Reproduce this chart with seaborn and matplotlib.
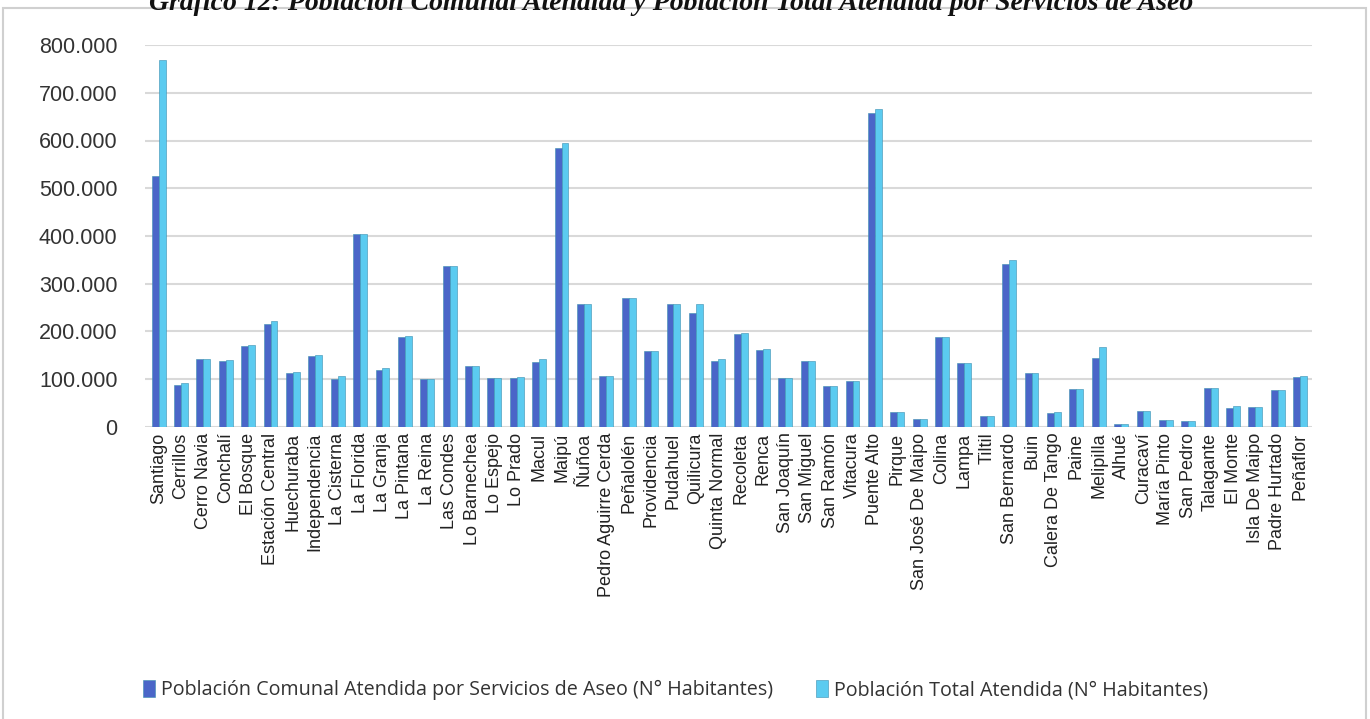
import pandas as pd
import seaborn as sns
import matplotlib.pyplot as plt
from matplotlib.patches import Rectangle
from matplotlib.ticker import FuncFormatter

# datos
comunas = ['Santiago', 'Cerrillos', 'Cerro Navia', 'Conchalí', 'El Bosque', 'Estación Central',
           'Huechuraba', 'Independencia', 'La Cisterna', 'La Florida', 'La Granja', 'La Pintana',
           'La Reina', 'Las Condes', 'Lo Barnechea', 'Lo Espejo', 'Lo Prado', 'Macul', 'Maipú',
           'Ñuñoa', 'Pedro Aguirre Cerda', 'Peñalolén', 'Providencia', 'Pudahuel', 'Quilicura',
           'Quinta Normal', 'Recoleta', 'Renca', 'San Joaquín', 'San Miguel', 'San Ramón',
           'Vitacura', 'Puente Alto', 'Pirque', 'San José De Maipo', 'Colina', 'Lampa', 'Tiltil',
           'San Bernardo', 'Buin', 'Calera De Tango', 'Paine', 'Melipilla', 'Alhué', 'Curacaví',
           'María Pinto', 'San Pedro', 'Talagante', 'El Monte', 'Isla De Maipo', 'Padre Hurtado',
           'Peñaflor']

pob_comunal = [525000, 88000, 142000, 138000, 170000, 216000, 114000, 149000, 101000, 405000,
               120000, 188000, 100000, 338000, 128000, 102000, 103000, 136000, 584000, 258000,
               106000, 270000, 160000, 258000, 238000, 139000, 194000, 162000, 103000, 139000,
               85000, 97000, 658000, 32000, 16000, 189000, 135000, 22000, 341000, 113000,
               29000, 80000, 145000, 6000, 34000, 14000, 12000, 82000, 40000, 41000, 78000, 104000]

pob_total = [768000, 92000, 142000, 140000, 171000, 222000, 116000, 151000, 107000, 405000,
             124000, 190000, 100000, 338000, 128000, 102000, 105000, 142000, 595000, 258000,
             106000, 270000, 160000, 258000, 257000, 142000, 197000, 163000, 103000, 139000,
             85000, 97000, 667000, 32000, 16000, 189000, 135000, 22000, 350000, 113000,
             31000, 80000, 167000, 6000, 34000, 14000, 12000, 82000, 45000, 41000, 78000, 106000]

serie_1 = 'Población Comunal Atendida por Servicios de Aseo (N° Habitantes)'
serie_2 = 'Población Total Atendida (N° Habitantes)'

df = pd.DataFrame({'Comuna': comunas * 2,
                   'Valor': pob_comunal + pob_total,
                   'Serie': [serie_1] * len(comunas) + [serie_2] * len(comunas)})

sns.set_style('white')
plt.rcParams['font.family'] = ['Liberation Sans', 'DejaVu Sans']

fig = plt.figure(figsize=(13.7, 7.19), dpi=100)
ax = fig.add_axes([0.106, 1 - 427 / 719, 0.958 - 0.106, (427 - 45) / 719])

sns.barplot(data=df, x='Comuna', y='Valor', hue='Serie', palette=['#4a66c8', '#5bcbf0'],
            saturation=1, width=0.62, edgecolor='#3a8fb0', linewidth=0.4, ax=ax, zorder=3)

ax.set_ylim(0, 800000)
ax.set_xlim(-0.6, 51.55)
ax.set_yticks(range(0, 800001, 100000))
ax.yaxis.set_major_formatter(FuncFormatter(lambda v, p: f'{int(v):,}'.replace(',', '.')))
ax.grid(axis='y', color='#d9d9d9', linewidth=1.5, zorder=0)
ax.set_axisbelow(True)
sns.despine(ax=ax, left=True, bottom=True)
ax.set_xlabel('')
ax.set_ylabel('')
ax.tick_params(axis='x', rotation=90, length=0, pad=4, labelsize=13, labelcolor='#222222')
ax.tick_params(axis='y', length=0, pad=20, labelsize=15.5, labelcolor='#333333')

# leyenda abajo
ax.legend_.remove()
h, l = ax.get_legend_handles_labels()
fig.legend(h, l, loc='center', bbox_to_anchor=(0.493, 1 - 690 / 719), ncol=2, frameon=False,
           handlelength=0.6, handleheight=1.0, handletextpad=0.3,
           columnspacing=2.2, labelcolor='#333333', prop={'family': 'Open Sans', 'size': 14.2})

# marco del gráfico
fig.patches.append(Rectangle((3 / 1370, -0.02), 1363 / 1370, 1.02 - 8 / 719,
                             transform=fig.transFigure, fill=False, edgecolor='#d0d0d0',
                             linewidth=1.5))

# título (cortado arriba)
fig.text(0.49, 1 - 10 / 719,
         'Gráfico 12: Población Comunal Atendida y Población Total Atendida por Servicios de Aseo',
         ha='center', va='baseline', fontsize=20, fontweight='bold', fontstyle='italic',
         family='Liberation Serif', color='#111111')

plt.savefig('out.png', dpi=100)
